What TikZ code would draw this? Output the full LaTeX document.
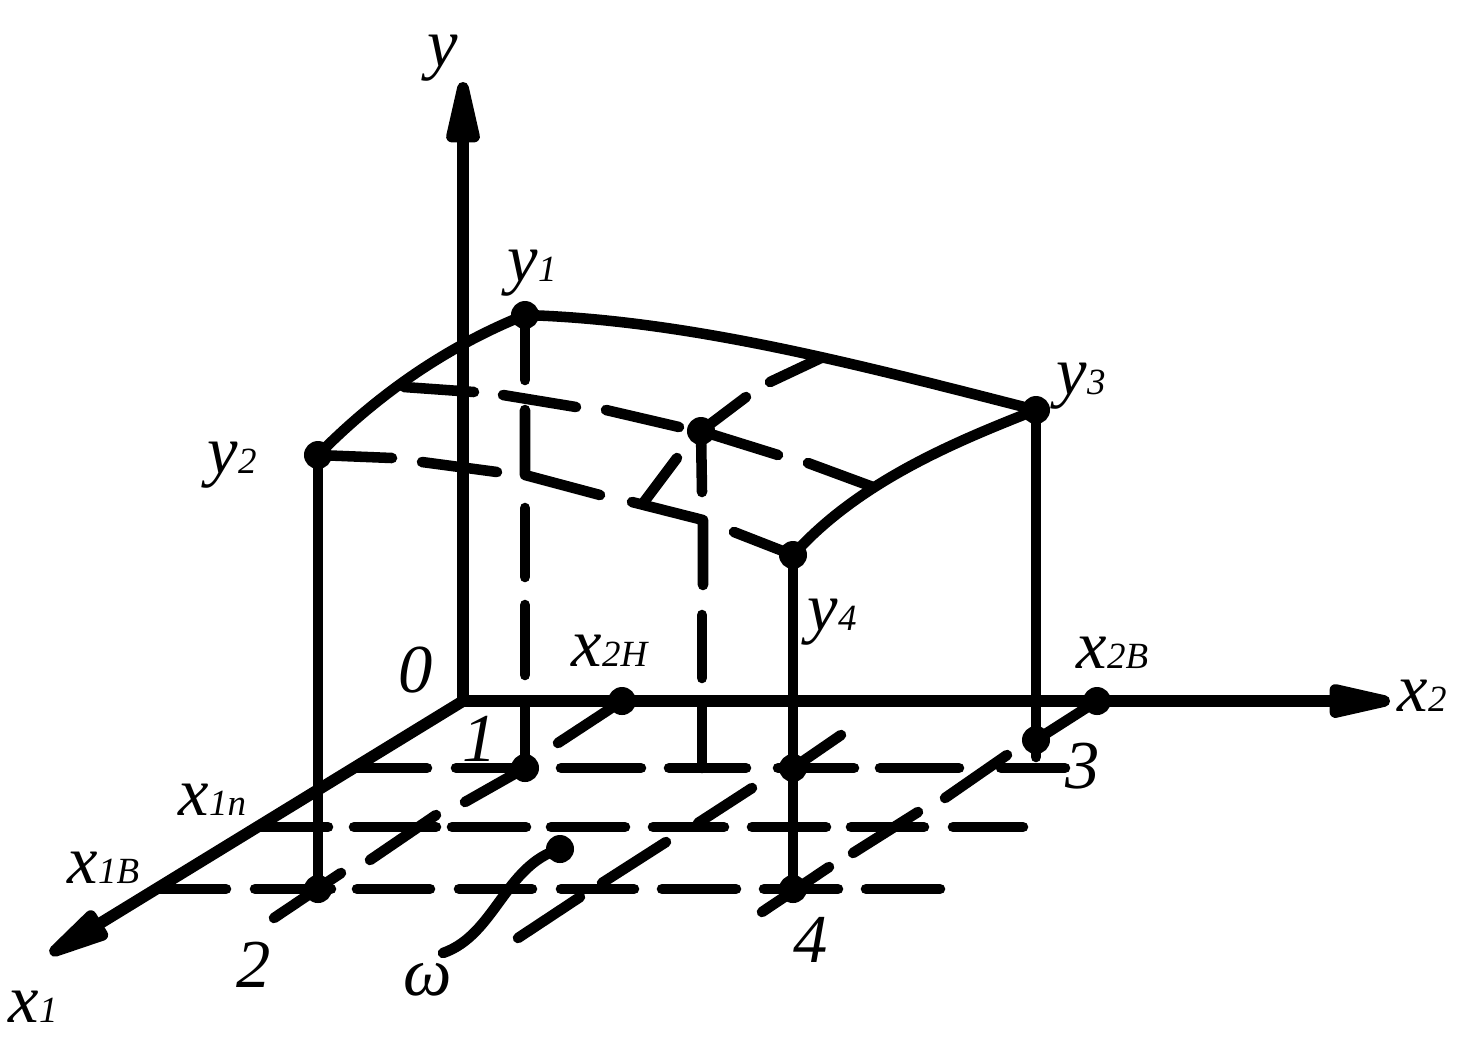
\documentclass[tikz,border=0pt]{standalone}
\usepackage{fontspec}
\setmainfont{Liberation Serif}
\usetikzlibrary{arrows.meta}

\newcommand{\lab}[2]{\fontsize{19.5pt}{20pt}\selectfont\textit{#1}\fontsize{10.5pt}{11pt}\selectfont\textit{#2}}

\tikzset{
  pnt/.style={circle,fill=black,inner sep=0pt,minimum size=0.28cm},
  lab/.style={anchor=base west,inner sep=0pt},
  axis/.style={line width=3.3pt,-{Triangle[round,length=0.85cm,width=0.33cm]}},
  solid line/.style={line width=3pt},
  seg/.style={line width=3pt,line cap=round,line join=round},
}

\begin{document}
\begin{tikzpicture}[x=0.01cm,y=-0.01cm]

\useasboundingbox (0,0) rectangle (1481,1047);

\coordinate (o) at (463,701);
\coordinate (ytip) at (463,82);
\coordinate (xtwotip) at (1390,701);
\coordinate (xonetip) at (50,954);

\node[pnt] (y1) at (525,315) {};
\node[pnt] (y2) at (318,455) {};
\node[pnt] (y3) at (1036,410) {};
\node[pnt] (y4) at (793,555) {};
\node[pnt] (mid) at (701,431) {};
\node[pnt] (p1) at (525,768) {};
\node[pnt] (p2) at (318,889) {};
\node[pnt] (p3) at (1036,740) {};
\node[pnt] (p4) at (793,889) {};
\node[pnt] (p5) at (793,768) {};
\node[pnt] (xH) at (622,701) {};
\node[pnt] (xB) at (1097,701) {};
\node[pnt] (w) at (560,849) {};

% axes
\draw[axis] (o) -- (ytip);
\draw[axis] (o) -- (xtwotip);
\draw[axis] (o) -- (xonetip);

% surface
\draw[solid line] (y2.center) .. controls (380,392) and (450,345) .. (y1.center);
\draw[solid line] (y1.center) .. controls (690,320) and (860,365) .. (y3.center);
\draw[solid line] (y3.center) .. controls (960,440) and (860,480) .. (y4.center);

% verticals
\draw[solid line] (y2.center) -- (p2.center);
\draw[solid line] (y4.center) -- (p4.center);
\draw[seg] (y3.center) -- (1036,757);

% dashes on the surface
\draw[seg] (y2.center) -- (392,458);
\draw[seg] (422,462) -- (497,472);
\draw[seg] (525,410) -- (525,475) -- (600,495);
\draw[seg] (632,502) -- (703,520) -- (703,585);
\draw[seg] (734,532) -- (y4.center);
\draw[seg] (404,387) -- (474,392);
\draw[seg] (503,395) -- (576,407);
\draw[seg] (606,410) -- (679,427);
\draw[seg] (mid.center) -- (778,455);
\draw[seg] (808,463) -- (873,487);
\draw[seg] (821,358) -- (770,382);
\draw[seg] (746,397) -- (mid.center) -- (702,492);
\draw[seg] (677,458) -- (644,502);

% dashes down to the plane
\draw[seg] (y1.center) -- (525,380);
\draw[seg] (525,508) -- (525,577);
\draw[seg] (525,605) -- (525,675);
\draw[seg] (o -| p1) -- (p1.center);
\draw[seg] (702,615) -- (702,678);
\draw[seg] (702,707) -- (702,768);

% rows of the plane
\draw[seg] (354,768) -- (427,768);
\draw[seg] (456,768) -- (p1.center);
\draw[seg] (561,768) -- (641,768);
\draw[seg] (669,768) -- (746,768);
\draw[seg] (778,768) -- (854,768);
\draw[seg] (880,768) -- (959,768);
\draw[seg] (1001,768) -- (1065,768);

\draw[seg] (258,827) -- (328,827);
\draw[seg] (354,827) -- (436,827);
\draw[seg] (452,827) -- (526,827);
\draw[seg] (551,827) -- (625,827);
\draw[seg] (653,827) -- (724,827);
\draw[seg] (752,827) -- (826,827);
\draw[seg] (851,827) -- (924,827);
\draw[seg] (953,827) -- (1023,827);

\draw[seg] (155,889) -- (226,889);
\draw[seg] (255,889) -- (331,889);
\draw[seg] (357,889) -- (430,889);
\draw[seg] (459,889) -- (532,889);
\draw[seg] (561,889) -- (634,889);
\draw[seg] (662,889) -- (736,889);
\draw[seg] (764,889) -- (838,889);
\draw[seg] (866,889) -- (940,889);

% slanted dashes
\draw[seg] (xH.center) -- (558,743);
\draw[seg] (p1.center) -- (465,802);
\draw[seg] (436,815) -- (370,860);
\draw[seg] (341,873) -- (274,918);
\draw[seg] (xB.center) -- (p3.center);
\draw[seg] (841,735) -- (p5.center);
\draw[seg] (1007,755) -- (945,798);
\draw[seg] (918,812) -- (853,853);
\draw[seg] (752,788) -- (698,823);
\draw[seg] (666,842) -- (602,883);
\draw[seg] (580,897) -- (518,938);
\draw[seg] (829,867) -- (762,912);

% omega lead
\draw[seg] (443,953) .. controls (495,935) and (505,865) .. (w.center);

% labels
\node[lab] (ly) at (427,66) {\lab{y}{}};
\node[lab] (ly1) at (507,281) {\lab{y}{1}};
\node[lab] (ly2) at (207,473) {\lab{y}{2}};
\node[lab] (ly3) at (1056,394) {\lab{y}{3}};
\node[lab] (ly4) at (807,630) {\lab{y}{4}};
\node[lab] (lxH) at (571,666) {\lab{x}{2H}};
\node[lab] (lxB) at (1076,668) {\lab{x}{2B}};
\node[lab] (lx2) at (1397,711) {\lab{x}{2}};
\node[lab] (lx1) at (8,1022) {\lab{x}{1}};
\node[lab] (lxb) at (67,883) {\lab{x}{1B}};
\node[lab] (lxn) at (178,815) {\lab{x}{1n}};
\node[lab] (l0) at (398,692) {\lab{0}{}};
\node[lab] (l1) at (462,761) {\lab{1}{}};
\node[lab] (l2) at (236,987) {\lab{2}{}};
\node[lab] (l3) at (1065,788) {\lab{3}{}};
\node[lab] (l4) at (793,962) {\lab{4}{}};
\node[lab] (lw) at (403,995) {\lab{ω}{}};

\end{tikzpicture}
\end{document}
